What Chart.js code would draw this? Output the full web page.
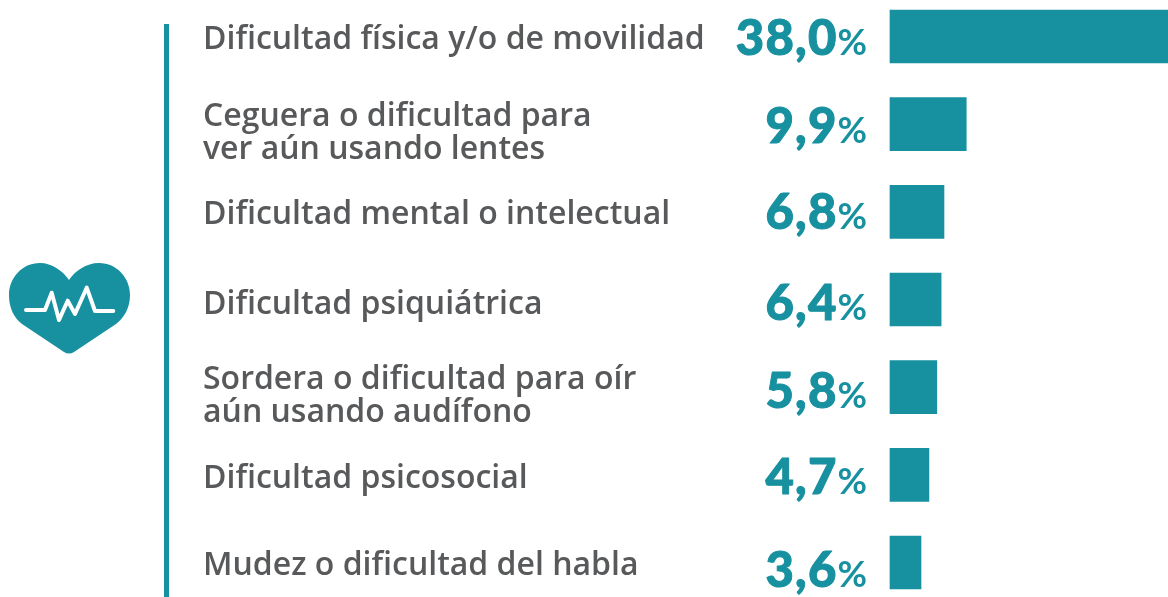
<!DOCTYPE html>
<html lang="es">
<head>
<meta charset="utf-8">
<style>
html,body{margin:0;padding:0;background:#fff;overflow:hidden}
#wrap{position:relative;width:1168px;height:597px}
canvas{position:absolute;left:0;top:0}
#rule{position:absolute;left:164px;top:24px;width:5px;height:573px;background:#17909f}
#icon{position:absolute;left:0;top:0}
</style>
</head>
<body>
<div id="wrap">
<canvas id="c" width="1168" height="597"></canvas>
<div id="rule"></div>
<svg id="icon" width="140" height="360" viewBox="0 0 140 360">
<path fill="#17909f" d="M69 280C75 271 86 263 99 263C117 263 130 278 130 295C130 308 124 318 116 324L74 352Q69 355 64 352L22 324C14 318 9 308 9 295C9 278 22 263 40 263C52 263 63 271 69 280Z"/>
<path fill="none" stroke="#fff" stroke-width="4" stroke-linecap="round" stroke-linejoin="round" d="M26 310H45L51.7 292.7L59 320L67.7 300.7L75 314L86.7 287.7L95 311H113.3"/>
</svg>
</div>
<script src="https://cdn.jsdelivr.net/npm/chart.js@4/dist/chart.umd.min.js"></script>
<script>
const categories = [
  "Dificultad física y/o de movilidad",
  ["Ceguera o dificultad para", "ver aún usando lentes"],
  "Dificultad mental o intelectual",
  "Dificultad psiquiátrica",
  ["Sordera o dificultad para oír", "aún usando audífono"],
  "Dificultad psicosocial",
  "Mudez o dificultad del habla"
];
const values = [38.0, 9.9, 6.8, 6.4, 5.8, 4.7, 3.6];

const TEAL = "#17909f";
const GREY = "#58595b";
const AXIS_MIN = -0.72;
const labelNudge = [3, 9.5, 3, 5, 9, 4, 3];
const valueNudge = [18.5, 18.8, 17.5, 20.5, 20.8, 19.2, 24.2];

const valueLabels = {
  id: "valueLabels",
  afterDatasetsDraw(chart) {
    const ctx = chart.ctx;
    const meta = chart.getDatasetMeta(0);
    ctx.save();
    ctx.fillStyle = TEAL;
    ctx.strokeStyle = TEAL;
    ctx.lineWidth = 1;
    ctx.lineJoin = "round";
    ctx.textBaseline = "alphabetic";
    meta.data.forEach((bar, i) => {
      const num = values[i].toFixed(1).replace(".", ",");
      const y = bar.y + valueNudge[i];
      ctx.font = "bold 36px Lato, sans-serif";
      ctx.textAlign = "right";
      ctx.fillText("%", 867, y);
      const pw = ctx.measureText("%").width;
      ctx.font = "900 49px Lato, sans-serif";
      ctx.letterSpacing = "1.2px";
      ctx.fillText(num, 867 - pw, y);
      ctx.strokeText(num, 867 - pw, y);
      ctx.letterSpacing = "0px";
    });
    ctx.restore();
  }
};

new Chart(document.getElementById("c"), {
  type: "bar",
  plugins: [valueLabels],
  data: {
    labels: categories,
    datasets: [{
      data: values,
      base: AXIS_MIN,
      backgroundColor: TEAL,
      barThickness: 53,
      clip: false
    }]
  },
  options: {
    indexAxis: "y",
    responsive: false,
    animation: false,
    layout: { padding: { left: 203, right: 0, top: 36.5, bottom: 34.5 } },
    plugins: { legend: { display: false }, tooltip: { enabled: false } },
    scales: {
      x: { display: false, min: AXIS_MIN, max: 38 },
      y: {
        offset: false,
        grid: { display: false, drawTicks: false },
        border: { display: false },
        afterFit(s) {
          s.width = 687;
          if (!s._shifted) {
            const compute = s._computeLabelItems;
            s._computeLabelItems = function (area) {
              const items = compute.call(this, area);
              items.forEach((it, i) => { it.options.translation[1] += labelNudge[i]; });
              return items;
            };
            s._shifted = true;
          }
        },
        ticks: {
          crossAlign: "far",
          autoSkip: false,
          padding: 0,
          color: GREY,
          font: { family: "'Open Sans', sans-serif", size: 32, weight: "600", lineHeight: "33px" }
        }
      }
    }
  }
});
</script>
</body>
</html>
